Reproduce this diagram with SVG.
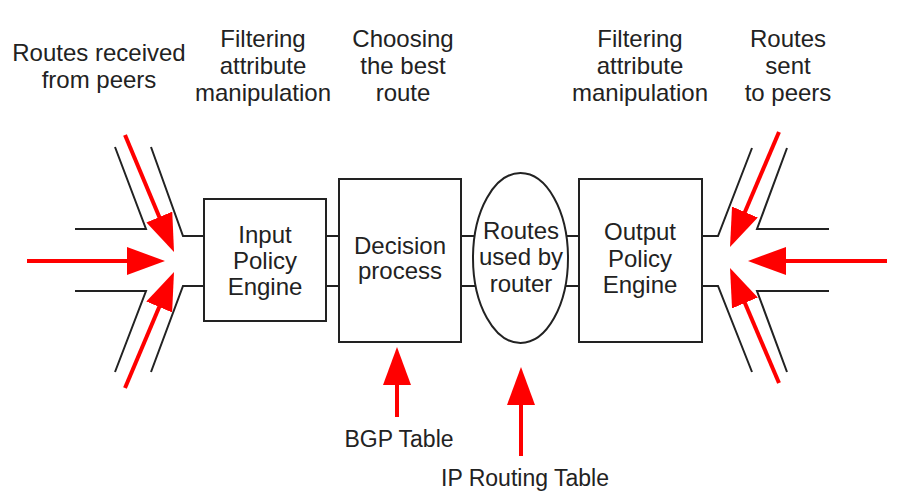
<svg xmlns="http://www.w3.org/2000/svg" width="901" height="501" viewBox="0 0 901 501">
<style>
  .t { font-family: "Liberation Sans", Arial, sans-serif; font-size: 24px; fill: #222; text-anchor: middle; }
  .s { font-size: 23px; }
  .box { fill: #fff; stroke: #222; stroke-width: 2; }
  .ln { fill: none; stroke: #222; stroke-width: 2; }
  .ar { fill: none; stroke: #ff0000; stroke-width: 4; marker-end: url(#head); }
</style>
<defs>
  <marker id="head" markerUnits="userSpaceOnUse" markerWidth="38" markerHeight="28" viewBox="0 0 38 28" refX="10" refY="14" orient="auto">
    <path d="M0,0 L38,14 L0,28 z" fill="#ff0000"/>
  </marker>
</defs>
<rect width="901" height="501" fill="#fff"/>

<g id="labels">
  <text class="t" x="99" y="61">Routes received</text>
  <text class="t" x="99" y="88">from peers</text>
  <text class="t" x="263" y="47">Filtering</text>
  <text class="t" x="263" y="74">attribute</text>
  <text class="t" x="263" y="101">manipulation</text>
  <text class="t" x="403" y="47">Choosing</text>
  <text class="t" x="403" y="74">the best</text>
  <text class="t" x="403" y="101">route</text>
  <text class="t" x="640" y="47">Filtering</text>
  <text class="t" x="640" y="74">attribute</text>
  <text class="t" x="640" y="101">manipulation</text>
  <text class="t" x="788" y="47">Routes</text>
  <text class="t" x="788" y="74">sent</text>
  <text class="t" x="788" y="101">to peers</text>
  <text class="t s" x="399" y="447">BGP Table</text>
  <text class="t s" x="525" y="486">IP Routing Table</text>
</g>

<g id="connectors">
  <polyline class="ln" points="75,229 146,229 115,147"/>
  <polyline class="ln" points="204,236 183,236 151,147"/>
  <polyline class="ln" points="75,291 146,291 115,372"/>
  <polyline class="ln" points="204,286 183,286 151,372"/>
  <polyline class="ln" points="702,236 718,236 752,148"/>
  <polyline class="ln" points="829,229 757,229 787,148"/>
  <polyline class="ln" points="702,286 718,286 752,372"/>
  <polyline class="ln" points="829,291 757,291 787,372"/>
  <line class="ln" x1="326" y1="236" x2="339" y2="236"/>
  <line class="ln" x1="326" y1="286" x2="339" y2="286"/>
  <line class="ln" x1="461" y1="236" x2="475" y2="236"/>
  <line class="ln" x1="461" y1="286" x2="476" y2="286"/>
  <line class="ln" x1="566" y1="236" x2="579" y2="236"/>
  <line class="ln" x1="565" y1="286" x2="579" y2="286"/>
  <line class="ar" x1="125" y1="135" x2="163.2" y2="226.2"/>
  <line class="ar" x1="27" y1="261" x2="137" y2="261"/>
  <line class="ar" x1="125" y1="388" x2="163.1" y2="297.8"/>
  <line class="ar" x1="779" y1="132" x2="741" y2="221.2"/>
  <line class="ar" x1="887" y1="261" x2="776" y2="261"/>
  <line class="ar" x1="779" y1="383" x2="741" y2="293.8"/>
  <line class="ar" x1="397" y1="417" x2="397" y2="375"/>
  <line class="ar" x1="521" y1="456" x2="521" y2="395"/>
</g>

<g id="input-policy-engine">
  <rect class="box" x="204" y="199" width="122" height="122"/>
  <text class="t" x="265" y="243">Input</text>
  <text class="t" x="265" y="269">Policy</text>
  <text class="t" x="265" y="295">Engine</text>
</g>

<g id="decision-process">
  <rect class="box" x="339" y="179" width="122" height="163"/>
  <text class="t" x="400" y="254">Decision</text>
  <text class="t" x="400" y="279">process</text>
</g>

<g id="routes-used">
  <ellipse class="box" cx="520.5" cy="258" rx="47.5" ry="85"/>
  <text class="t" x="521" y="239">Routes</text>
  <text class="t" x="521" y="265">used by</text>
  <text class="t" x="521" y="292">router</text>
</g>

<g id="output-policy-engine">
  <rect class="box" x="579" y="179" width="123" height="163"/>
  <text class="t" x="640" y="240">Output</text>
  <text class="t" x="640" y="267">Policy</text>
  <text class="t" x="640" y="293">Engine</text>
</g>
</svg>
